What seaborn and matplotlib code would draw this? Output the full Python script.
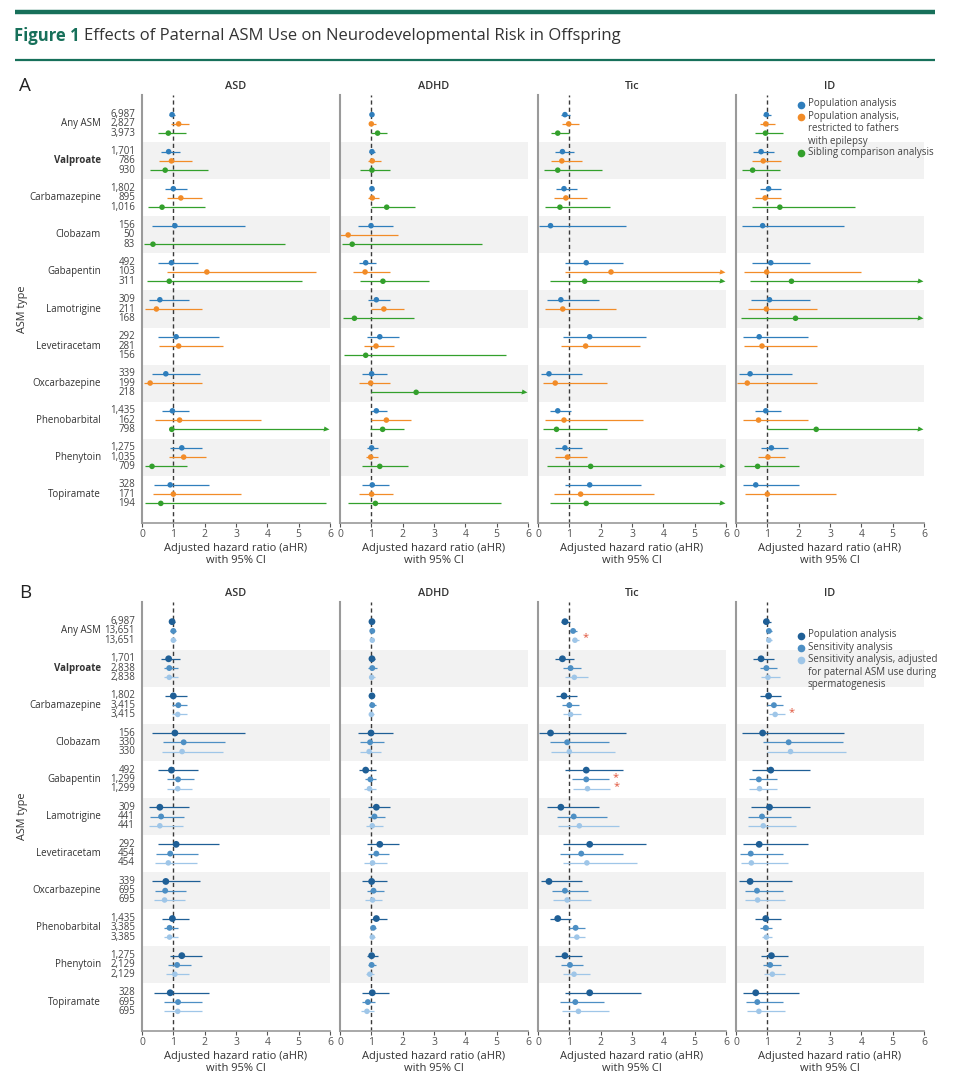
import numpy as np
import pandas as pd
import matplotlib
matplotlib.use("Agg")
import matplotlib.pyplot as plt
import seaborn as sns
from matplotlib.lines import Line2D

INF = np.inf

drugs = ["Any ASM", "Valproate", "Carbamazepine", "Clobazam", "Gabapentin", "Lamotrigine",
         "Levetiracetam", "Oxcarbazepine", "Phenobarbital", "Phenytoin", "Topiramate"]
outcomes = ["ASD", "ADHD", "Tic", "ID"]

n_pop = ["6,987", "1,701", "1,802", "156", "492", "309", "292", "339", "1,435", "1,275", "328"]
n_epi = ["2,827", "786", "895", "50", "103", "211", "281", "199", "162", "1,035", "171"]
n_sib = ["3,973", "930", "1,016", "83", "311", "168", "156", "218", "798", "709", "194"]
n_sens = ["13,651", "2,838", "3,415", "330", "1,299", "441", "454", "695", "3,385", "2,129", "695"]
n_adj = ["13,651", "2,838", "3,415", "330", "1,299", "441", "454", "695", "3,385", "2,129", "695"]

# (aHR, lower CI, upper CI); None = not estimated; INF = beyond axis
asd_pop = [(0.96, 0.87, 1.06), (0.85, 0.6, 1.2), (1.0, 0.72, 1.45), (1.05, 0.33, 3.3), (0.94, 0.5, 1.8),
           (0.57, 0.22, 1.5), (1.09, 0.5, 2.45), (0.76, 0.32, 1.85), (0.97, 0.65, 1.5), (1.27, 0.9, 1.9),
           (0.9, 0.38, 2.15)]
asd_epi = [(1.17, 0.92, 1.5), (0.94, 0.55, 1.6), (1.24, 0.8, 1.9), None, (2.07, 0.8, 5.55),
           (0.46, 0.1, 1.9), (1.17, 0.55, 2.6), (0.26, 0.05, 1.9), (1.2, 0.4, 3.8), (1.33, 0.85, 2.05),
           (1.0, 0.35, 3.15)]
asd_sib = [(0.84, 0.5, 1.4), (0.74, 0.25, 2.1), (0.64, 0.2, 2.0), (0.35, 0.05, 4.55), (0.87, 0.15, 5.1),
           None, None, None, (0.95, 0.9, INF), (0.32, 0.1, 1.45), (0.6, 0.1, 5.9)]

adhd_pop = [(1.02, 0.98, 1.06), (1.02, 0.92, 1.12), (1.02, 0.95, 1.1), (0.99, 0.57, 1.7), (0.82, 0.6, 1.15),
            (1.16, 0.9, 1.6), (1.27, 0.85, 1.87), (1.01, 0.7, 1.5), (1.16, 0.98, 1.5), (1.01, 0.85, 1.2),
            (1.03, 0.7, 1.55)]
adhd_epi = [(1.0, 0.92, 1.15), (1.03, 0.88, 1.3), (1.03, 0.9, 1.25), (0.26, 0.01, 1.85), (0.8, 0.4, 1.6),
            (1.4, 1.0, 2.05), (1.15, 0.75, 1.73), (0.98, 0.6, 1.6), (1.48, 1.0, 2.27), (0.98, 0.83, 1.2),
            (1.01, 0.6, 1.7)]
adhd_sib = [(1.2, 1.0, 1.5), (1.02, 0.65, 1.6), (1.49, 1.0, 2.38), (0.39, 0.06, 4.53), (1.37, 0.65, 2.85),
            (0.46, 0.1, 2.35), (0.82, 0.12, 5.3), (2.43, 1.0, INF), (1.36, 0.95, 2.05), (1.27, 0.7, 2.17),
            (1.13, 0.25, 5.15)]

tic_pop = [(0.86, 0.72, 1.02), (0.78, 0.55, 1.15), (0.83, 0.58, 1.25), (0.4, 0.02, 2.8), (1.54, 0.87, 2.7),
           (0.73, 0.28, 1.95), (1.65, 0.8, 3.45), (0.35, 0.1, 1.4), (0.63, 0.38, 1.05), (0.86, 0.55, 1.4),
           (1.65, 0.85, 3.3)]
tic_epi = [(0.98, 0.75, 1.3), (0.76, 0.42, 1.4), (0.89, 0.52, 1.55), None, (2.33, 0.87, INF),
           (0.79, 0.22, 2.5), (1.52, 0.72, 3.25), (0.55, 0.15, 2.2), (0.83, 0.22, 3.35), (0.94, 0.55, 1.55),
           (1.36, 0.52, 3.7)]
tic_sib = [(0.63, 0.4, 1.0), (0.63, 0.2, 2.05), (0.7, 0.22, 2.3), None, (1.49, 0.37, INF),
           None, None, None, (0.59, 0.15, 2.2), (1.68, 0.3, INF), (1.54, 0.38, INF)]

id_pop = [(0.97, 0.85, 1.12), (0.8, 0.55, 1.2), (1.04, 0.75, 1.45), (0.85, 0.2, 3.45), (1.11, 0.52, 2.35),
          (1.07, 0.48, 2.35), (0.74, 0.23, 2.3), (0.45, 0.1, 1.8), (0.95, 0.6, 1.45), (1.13, 0.8, 1.65),
          (0.63, 0.22, 2.0)]
id_epi = [(0.95, 0.75, 1.25), (0.87, 0.5, 1.45), (0.93, 0.6, 1.45), None, (0.98, 0.25, 4.0),
          (0.97, 0.37, 2.6), (0.83, 0.25, 2.6), (0.36, 0.02, 2.6), (0.72, 0.22, 2.3), (1.02, 0.7, 1.55),
          (1.0, 0.3, 3.2)]
id_sib = [(0.94, 0.6, 1.5), (0.53, 0.2, 1.4), (1.4, 0.52, 3.8), None, (1.77, 0.45, INF),
          (1.9, 0.15, INF), None, None, (2.56, 0.98, INF), (0.69, 0.25, 2.0), None]

asd_sens = [(1.0, 0.9, 1.1), (0.87, 0.7, 1.15), (1.16, 0.95, 1.45), (1.33, 0.67, 2.65), (1.15, 0.8, 1.65),
            (0.61, 0.25, 1.35), (0.9, 0.45, 1.8), (0.74, 0.4, 1.4), (0.88, 0.7, 1.15), (1.12, 0.82, 1.55),
            (1.15, 0.7, 1.92)]
asd_adj = [(1.0, 0.92, 1.1), (0.87, 0.7, 1.15), (1.14, 0.95, 1.45), (1.28, 0.65, 2.6), (1.14, 0.8, 1.6),
           (0.57, 0.22, 1.3), (0.84, 0.4, 1.75), (0.72, 0.38, 1.38), (0.88, 0.7, 1.15), (1.05, 0.78, 1.5),
           (1.14, 0.7, 1.9)]
adhd_sens = [(1.03, 0.97, 1.08), (1.03, 0.9, 1.17), (1.03, 0.93, 1.14), (0.96, 0.65, 1.4), (0.97, 0.8, 1.15),
             (1.1, 0.9, 1.45), (1.16, 0.9, 1.55), (1.07, 0.85, 1.4), (1.06, 0.97, 1.16), (1.01, 0.88, 1.15),
             (0.89, 0.7, 1.12)]
adhd_adj = [(1.03, 1.0, 1.06), (1.01, 0.92, 1.12), (1.0, 0.93, 1.08), (0.93, 0.65, 1.3), (0.94, 0.78, 1.15),
            (1.03, 0.82, 1.37), (1.04, 0.75, 1.5), (1.04, 0.8, 1.35), (1.03, 0.95, 1.12), (0.95, 0.83, 1.1),
            (0.86, 0.68, 1.08)]
tic_sens = [(1.12, 1.03, 1.25), (1.04, 0.8, 1.38), (1.0, 0.78, 1.3), (0.93, 0.38, 2.25), (1.54, 1.1, 2.25),
            (1.14, 0.6, 2.2), (1.38, 0.7, 2.7), (0.86, 0.45, 1.6), (1.2, 0.98, 1.5), (1.02, 0.72, 1.45),
            (1.19, 0.7, 2.1)]
tic_adj = [(1.18, 1.08, 1.3), (1.16, 0.85, 1.6), (1.04, 0.8, 1.38), (1.0, 0.4, 2.45), (1.58, 1.12, 2.3),
           (1.32, 0.65, 2.6), (1.56, 0.8, 3.15), (0.93, 0.48, 1.7), (1.24, 1.0, 1.5), (1.15, 0.8, 1.65),
           (1.29, 0.75, 2.25)]
id_sens = [(1.05, 0.95, 1.15), (0.97, 0.75, 1.3), (1.21, 1.0, 1.5), (1.68, 0.85, 3.4), (0.73, 0.4, 1.3),
           (0.83, 0.38, 1.75), (0.47, 0.13, 1.5), (0.67, 0.3, 1.5), (0.95, 0.78, 1.15), (1.09, 0.85, 1.45),
           (0.68, 0.33, 1.5)]
id_adj = [(1.05, 0.97, 1.15), (1.02, 0.8, 1.4), (1.25, 1.05, 1.55), (1.74, 1.0, 3.5), (0.75, 0.42, 1.3),
          (0.87, 0.38, 1.9), (0.49, 0.17, 1.65), (0.69, 0.3, 1.55), (0.97, 0.82, 1.15), (1.16, 0.9, 1.55),
          (0.73, 0.35, 1.55)]

# significance stars (outcome, drug, series index in panel B)
stars_B = [("Tic", "Any ASM", 2), ("Tic", "Gabapentin", 1), ("Tic", "Gabapentin", 2), ("ID", "Carbamazepine", 2)]

series_A = ["Population analysis", "Population analysis,\nrestricted to fathers\nwith epilepsy",
            "Sibling comparison analysis"]
series_B = ["Population analysis", "Sensitivity analysis",
            "Sensitivity analysis, adjusted\nfor paternal ASM use during\nspermatogenesis"]

panel_A = {"ASD": [asd_pop, asd_epi, asd_sib], "ADHD": [adhd_pop, adhd_epi, adhd_sib],
           "Tic": [tic_pop, tic_epi, tic_sib], "ID": [id_pop, id_epi, id_sib]}
panel_B = {"ASD": [asd_pop, asd_sens, asd_adj], "ADHD": [adhd_pop, adhd_sens, adhd_adj],
           "Tic": [tic_pop, tic_sens, tic_adj], "ID": [id_pop, id_sens, id_adj]}

colors_A = ["#2f7ebc", "#f28c28", "#33a02c"]
colors_B = ["#1f5f96", "#4d8fc4", "#9fc6e8"]
sizes_A = [16, 16, 16]
sizes_B = [24, 18, 16]

sns.set_theme(style="white")
plt.rcParams["font.family"] = ["Open Sans", "DejaVu Sans"]

W, H = 960, 1080
fig = plt.figure(figsize=(W / 100, H / 100), dpi=100)

XMAX = 6.0
ARROW_X = 5.88
offs = [-0.25, 0.0, 0.25]
col_x = [142, 340, 538, 736]
col_w = 188
green = "#17705a"


def add_ax(xpx, top, bottom):
    return fig.add_axes([xpx / W, 1 - bottom / H, col_w / W, (bottom - top) / H])


def draw_panel(top, bottom, data, colors, sizes, nlists, labels, stars):
    axes = []
    for ci, outc in enumerate(outcomes):
        ax = add_ax(col_x[ci], top, bottom)
        axes.append(ax)
        ax.set_xlim(0, XMAX)
        ax.set_ylim(10.78, -0.78)
        for g in range(len(drugs)):
            if g % 2 == 1:
                ax.axhspan(g - 0.5, g + 0.5, color="#f2f2f2", lw=0, zorder=0)
        ax.axvline(1, color="#3a3a3a", lw=1.0, ls=(0, (3, 2.2)), zorder=1)
        rows = []
        for k, ser in enumerate(data[outc]):
            for g, v in enumerate(ser):
                if v is None:
                    continue
                hr, lo, hi = v
                y = g + offs[k]
                hi_draw = min(hi, ARROW_X)
                ax.hlines(y, lo, hi_draw, color=colors[k], lw=0.9, zorder=2)
                if np.isinf(hi):
                    ax.plot([ARROW_X], [y], marker=">", ms=3.6, color=colors[k], mec="none", zorder=3)
                rows.append({"hr": hr, "y": y, "series": labels[k]})
        df = pd.DataFrame(rows)
        sns.scatterplot(data=df, x="hr", y="y", hue="series", palette=dict(zip(labels, colors)),
                        size="series", sizes=dict(zip(labels, sizes)), edgecolor="none",
                        legend=False, ax=ax, zorder=4)
        if stars:
            for (o, d, k) in stars:
                if o != outc:
                    continue
                g = drugs.index(d)
                hi = data[outc][k][g][2]
                ax.text(hi + 0.12, g + offs[k] - 0.06, "*", color="#e0533a", fontsize=8,
                        ha="left", va="center", zorder=5)
        ax.set_xlabel("Adjusted hazard ratio (aHR)\nwith 95% CI", fontsize=8, color="#333333",
                      labelpad=2, linespacing=1.1)
        ax.set_ylabel("")
        ax.set_xticks(range(0, 7))
        ax.set_xticklabels([str(i) for i in range(0, 7)])
        ax.tick_params(axis="x", labelsize=7.5, colors="#555555", length=3, width=0.8, pad=1.5, direction="out",
                       bottom=True)
        ax.set_yticks([])
        for s in ["top", "right"]:
            ax.spines[s].set_visible(False)
        ax.spines["left"].set_color("#9a9a9a")
        ax.spines["left"].set_linewidth(1.5)
        ax.spines["bottom"].set_color("#9a9a9a")
        ax.spines["bottom"].set_linewidth(1.2)
        ax.set_title(outc, fontsize=7.8, fontweight="semibold", color="#333333", pad=4)
        if ci == 0:
            for k, nl in enumerate(nlists):
                for g, n in enumerate(nl):
                    ax.annotate(n, xy=(0, g + offs[k]), xycoords=("axes fraction", "data"),
                                xytext=(-5, 0), textcoords="offset points", ha="right", va="center",
                                fontsize=7, color="#444444")
            for g, d in enumerate(drugs):
                ax.annotate(d, xy=(0, g), xycoords=("axes fraction", "data"),
                            xytext=(-29.5, 0), textcoords="offset points", ha="right", va="center",
                            fontsize=7, color="#333333",
                            fontweight="bold" if d == "Valproate" else "normal")
    return axes


axA = draw_panel(95, 523, panel_A, colors_A, sizes_A, [n_pop, n_epi, n_sib], series_A, None)
axB = draw_panel(602, 1031, panel_B, colors_B, sizes_B, [n_pop, n_sens, n_adj], series_B, stars_B)


def legend(labels, colors, first_center_px, x_marker_px=801, x_text_px=808, line_px=11.9):
    y = first_center_px
    for lab, c in zip(labels, colors):
        fig.add_artist(Line2D([x_marker_px / W], [1 - y / H], marker="o", ls="", color=c, ms=5.5, mec="none"))
        fig.text(x_text_px / W, 1 - (y - 6.2) / H, lab, fontsize=7, color="#444444", ha="left", va="top",
                 linespacing=1.2)
        y += line_px * (lab.count("\n") + 1) + 0.5


legend(series_A, colors_A, 104.5)
legend(series_B, colors_B, 635.5)

# y labels and panel letters
fig.text(22 / W, 1 - 309 / H, "ASM type", rotation=90, fontsize=7.8, color="#333333", ha="center", va="center")
fig.text(22 / W, 1 - 816 / H, "ASM type", rotation=90, fontsize=7.8, color="#333333", ha="center", va="center")
fig.text(19 / W, 1 - 86 / H, "A", fontsize=13.5, color="#222222", ha="left", va="center")
fig.text(19 / W, 1 - 593 / H, "B", fontsize=13.5, color="#222222", ha="left", va="center")

# header
fig.add_artist(Line2D([15 / W, 935 / W], [1 - 11.5 / H] * 2, lw=3.2, color=green, solid_capstyle="butt"))
fig.add_artist(Line2D([15 / W, 935 / W], [1 - 59.5 / H] * 2, lw=1.6, color=green, solid_capstyle="butt"))
t1 = fig.text(14 / W, 1 - 36 / H, "Figure 1", fontsize=12, fontweight="bold", color=green, ha="left",
              va="center")
fig.canvas.draw()
bb = t1.get_window_extent(renderer=fig.canvas.get_renderer())
fig.text(bb.x1 / W + 4 / W, 1 - 36 / H, "Effects of Paternal ASM Use on Neurodevelopmental Risk in Offspring",
         fontsize=12, color="#333333", ha="left", va="center")

fig.savefig("out.png", dpi=100)
